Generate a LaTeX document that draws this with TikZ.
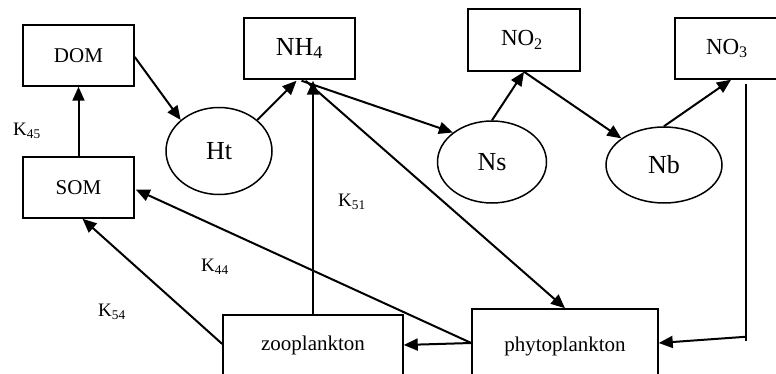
\documentclass[tikz,border=0pt]{standalone}
\usepackage{fontspec}
\setmainfont{Liberation Serif}
\usetikzlibrary{arrows.meta,shapes.geometric,calc}
\tikzset{
  boxnode/.style={draw,line width=1.5pt,inner sep=0pt,rectangle},
  ellnode/.style={draw,line width=1.5pt,inner sep=0pt,ellipse},
  flow/.style={line width=2pt,-{Triangle[length=14pt,width=12pt]}},
  plain/.style={line width=1.5pt},
  klabel/.style={font=\fontsize{19}{21}\selectfont,inner sep=0pt}
}
\begin{document}
\begin{tikzpicture}[x=1pt,y=-1pt]
\useasboundingbox (0,0) rectangle (776,374);
\node[boxnode,minimum width=111pt,minimum height=61pt,font=\fontsize{21}{23}\selectfont] (DOM) at (78.5,55.5) {DOM};
\node[boxnode,minimum width=111pt,minimum height=61pt,font=\fontsize{26}{28}\selectfont] (NH4) at (299.5,48.5) {NH\textsubscript{4}};
\node[boxnode,minimum width=112pt,minimum height=62pt,font=\fontsize{23}{25}\selectfont,text width=90pt,align=left] (NO2) at (524,40) {\hspace*{22pt}NO\textsubscript{2}};
\node[boxnode,minimum width=112pt,minimum height=61pt,font=\fontsize{23}{25}\selectfont,text width=90pt,align=left] (NO3) at (731,48.5) {\hspace*{20pt}NO\textsubscript{3}};
\node[boxnode,minimum width=111pt,minimum height=61pt,font=\fontsize{21}{23}\selectfont] (SOM) at (78.5,187.5) {SOM};
\node[ellnode,minimum width=106pt,minimum height=87pt,font=\fontsize{26}{28}\selectfont] (Ht) at (219,151) {Ht};
\node[ellnode,minimum width=109pt,minimum height=82pt,font=\fontsize{26}{28}\selectfont] (Ns) at (492,162) {Ns};
\node[ellnode,minimum width=116pt,minimum height=76pt,font=\fontsize{26}{28}\selectfont] (Nb) at (664,165) {Nb};
\node[boxnode,minimum width=180pt,minimum height=60pt,font=\fontsize{21}{23}\selectfont] (zoo) at (313,345) {zooplankton};
\node[boxnode,minimum width=186pt,minimum height=74pt,font=\fontsize{21}{23}\selectfont] (phyto) at (565,346) {phytoplankton};

\node[klabel] (k45) at (27,131) {K\textsubscript{45}};
\node[klabel] (k51) at (352,202) {K\textsubscript{51}};
\node[klabel] (k44) at (215,267) {K\textsubscript{44}};
\node[klabel] (k54) at (112,312) {K\textsubscript{54}};

\coordinate (no3top) at ($(NO3.south)+(15,4)$);
\coordinate (no3bot) at ($(NO3.south)+(15,261)$);
\coordinate (no3turn) at ($(NO3.south)+(15,257)$);

\draw[flow] (SOM.north) -- (DOM.south);
\draw[flow] ($(DOM.east)+(0,1.5)$) -- (Ht.141);
\draw[flow] (Ht.39) -- ($(NH4.south)+(-3,1)$);
\draw[flow] ($(NH4.south)+(2,1)$) -- (Ns.143);
\draw[flow] ($(NH4.south)+(6,1)$) -- (phyto.north);
\draw[flow] (zoo.north) -- ($(NH4.south)+(13.5,1)$);
\draw[flow] (Ns.north) -- (NO2.south);
\draw[flow] (NO2.south) -- (Nb.148);
\draw[flow] (Nb.north) -- (NO3.south);
\draw[plain] (no3top) -- (no3bot);
\draw[flow] (no3turn) -- ($(phyto.east)+(0,-3)$);
\draw[flow] ($(phyto.west)+(0,-3)$) -- ($(SOM.east)+(1,2)$);
\draw[flow] ($(phyto.west)+(0,-3)$) -- (zoo.east);
\draw[flow] ($(zoo.west)+(0,-1)$) -- ($(SOM.south)+(4,0)$);
\end{tikzpicture}
\end{document}
